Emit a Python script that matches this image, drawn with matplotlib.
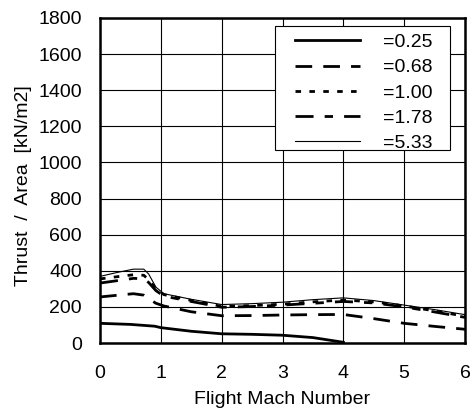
import matplotlib
matplotlib.use('Agg')
import matplotlib.pyplot as plt
from matplotlib.patches import Rectangle

plt.rcParams['font.family'] = ['Liberation Sans', 'DejaVu Sans']
plt.rcParams['font.size'] = 14

# Flight Mach number samples and thrust/area [kN/m2] per curve
mach = [0.0, 0.3, 0.55, 0.72, 0.8, 0.92, 1.05, 1.5, 2.0, 2.5, 3.0, 3.5, 4.0, 4.5, 5.0, 5.5, 6.0]

r533 = [369, 392, 409, 409, 382, 309, 273, 242, 213, 218, 226, 240, 250, 235, 210, 185, 157]
r100 = [355, 368, 378, 375, 350, 300, 268, 236, 203, 207, 215, 228, 238, 228, 205, 178, 148]
r178 = [332, 346, 358, 356, 335, 290, 260, 230, 198, 202, 210, 220, 230, 222, 200, 172, 142]
r068 = [255, 265, 273, 265, 245, 220, 205, 173, 151, 152, 155, 157, 158, 135, 109, 92, 76]

mach_low = [0.0, 0.5, 0.9, 1.0, 1.5, 2.0, 2.5, 3.0, 3.5, 4.0]
r025 = [109, 103, 93, 85, 65, 51, 48, 43, 30, 4]

labels = ['=0.25', '=0.68', '=1.00', '=1.78', '=5.33']

fig = plt.figure(figsize=(4.72, 4.11), dpi=100)
ax = fig.add_axes([100 / 472, 1 - 343 / 411, 365 / 472, 325 / 411])

ax.plot(mach_low, r025, color='black', lw=2.0, ls='-', label=labels[0])
ax.plot(mach, r068, color='black', lw=2.0, ls=(0, (6, 4)), label=labels[1])
ax.plot(mach, r100, color='black', lw=2.0, ls=(0, (2, 3)), label=labels[2])
ax.plot(mach, r178, color='black', lw=2.0, ls=(0, (6.5, 4, 3, 4)), label=labels[3])
ax.plot(mach, r533, color='black', lw=0.8, ls='-', label=labels[4])

ax.set_xlim(0, 6)
ax.set_ylim(0, 1800)
ax.set_xticks(range(0, 7))
ax.set_yticks(range(0, 1801, 200))
ax.grid(True, color='black', lw=0.8)
ax.tick_params(length=0, labelsize=14)
ax.tick_params(axis='x', pad=16)
ax.tick_params(axis='y', pad=13)
for s in ax.spines.values():
    s.set_linewidth(1.8)

ax.set_xlabel('Flight Mach Number', fontsize=14, labelpad=6)
ax.set_ylabel('Thrust  /  Area  [kN/m2]', fontsize=14)
ax.yaxis.set_label_coords(-0.185, 0.485)

# legend entries without frame, box drawn separately (wider side padding)
leg = ax.legend(loc='upper left', bbox_to_anchor=(0.534, 0.952), frameon=False,
                handlelength=3.35, handletextpad=1.2,
                borderpad=0, labelspacing=0.39, fontsize=14, borderaxespad=0)
leg.set_zorder(6)
ax.add_patch(Rectangle((0.479, 0.594), 0.48, 0.381, transform=ax.transAxes,
                       facecolor='white', edgecolor='black', lw=0.8, zorder=5))

fig.savefig('out.png', dpi=100)
